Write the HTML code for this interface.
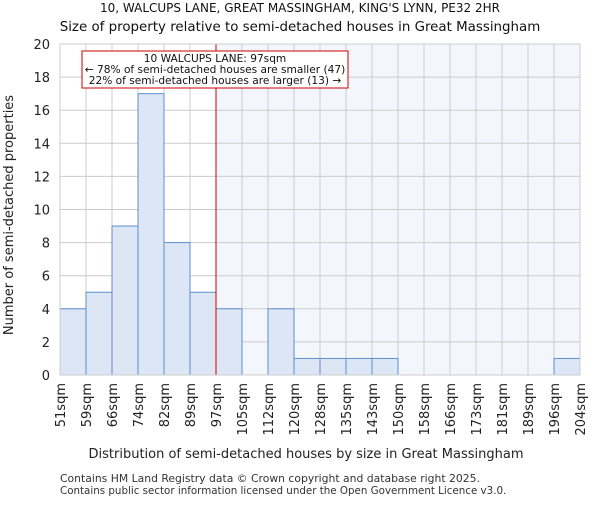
<!DOCTYPE html>
<html><head><meta charset="utf-8"><style>body{margin:0;background:#fff}svg{font-family:"DejaVu Sans","Liberation Sans",sans-serif}</style></head>
<body>
<svg id="c" width="600" height="500"></svg>
<script>
const categories=["51sqm","59sqm","66sqm","74sqm","82sqm","89sqm","97sqm","105sqm","112sqm","120sqm","128sqm","135sqm","143sqm","150sqm","158sqm","166sqm","173sqm","181sqm","189sqm","196sqm","204sqm"];
const counts=[4,5,9,17,8,5,4,0,4,1,1,1,1,0,0,0,0,0,0,1];
const yTicks=[0,2,4,6,8,10,12,14,16,18,20];
const markerIndex=6;
const L=60,R=580,T=44,B=375,yMax=20;
const bw=(R-L)/counts.length;
const x=i=>L+i*bw, y=v=>B-(B-T)*v/yMax;
const s=document.getElementById('c');const NS="http://www.w3.org/2000/svg";
function el(t,a,txt){const e=document.createElementNS(NS,t);for(const k in a)e.setAttribute(k,a[k]);if(txt!=null)e.textContent=txt;s.appendChild(e);return e;}
let e;
e=el('rect',{x:x(markerIndex),y:T,width:R-x(markerIndex),height:B-T,fill:'#f3f6fd'});


for(let i=0;i<=counts.length;i++){e=el('line',{x1:x(i),x2:x(i),y1:T,y2:B,stroke:'#ccc','stroke-width':1});

}
yTicks.forEach(v=>{e=el('line',{x1:L,x2:R,y1:y(v),y2:y(v),stroke:'#ccc','stroke-width':1});


e=el('text',{x:L-10,y:y(v)+5,'text-anchor':'end','font-size':13,fill:'#222'},v);

});
counts.forEach((v,i)=>{if(v>0){e=el('rect',{x:x(i),y:y(v),width:bw,height:B-y(v),fill:'#dce6f4',stroke:'#5b8fd0','stroke-width':1});

}});
categories.forEach((c,i)=>{e=el('text',{transform:`translate(${x(i)+5},${B+8}) rotate(-90)`,'text-anchor':'end','font-size':13,fill:'#222'},c);

});
e=el('line',{x1:x(markerIndex),x2:x(markerIndex),y1:T,y2:B,stroke:'#cc0000','stroke-width':1});


e=el('rect',{x:82,y:51,width:266,height:37,fill:'#fff',stroke:'#cc0000','stroke-width':1});


[["10 WALCUPS LANE: 97sqm",62],["\u2190 78% of semi-detached houses are smaller (47)",73],["22% of semi-detached houses are larger (13) \u2192",84]].forEach(a=>{e=el('text',{x:215,y:a[1],'text-anchor':'middle','font-size':10.6,fill:'#111'},a[0]);

});
e=el('rect',{x:L,y:T,width:R-L,height:B-T,fill:'none',stroke:'#ccc'});


e=el('text',{x:300,y:12,'text-anchor':'middle','font-size':12,fill:'#111'},"10, WALCUPS LANE, GREAT MASSINGHAM, KING'S LYNN, PE32 2HR");


e=el('text',{x:300,y:31,'text-anchor':'middle','font-size':13.4,fill:'#111'},"Size of property relative to semi-detached houses in Great Massingham");


e=el('text',{transform:'translate(13,215) rotate(-90)','text-anchor':'middle','font-size':13,fill:'#222'},"Number of semi-detached properties");


e=el('text',{x:306,y:458,'text-anchor':'middle','font-size':13,fill:'#222'},"Distribution of semi-detached houses by size in Great Massingham");


e=el('text',{x:60,y:482,'font-size':10.8,fill:'#333'},"Contains HM Land Registry data \u00a9 Crown copyright and database right 2025.");


e=el('text',{x:60,y:494,'font-size':10.3,fill:'#333'},"Contains public sector information licensed under the Open Government Licence v3.0.");


</script>
</body></html>
